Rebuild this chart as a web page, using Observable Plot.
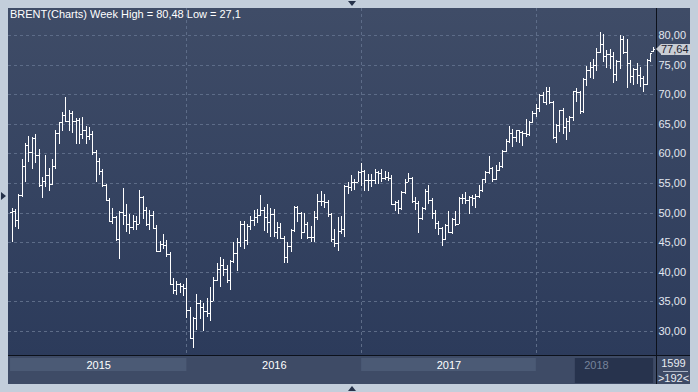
<!DOCTYPE html>
<html><head><meta charset="utf-8">
<script src="https://cdn.jsdelivr.net/npm/d3@7"></script>
<script src="https://cdn.jsdelivr.net/npm/@observablehq/plot@0.6"></script>
<style>
html,body{margin:0;padding:0;background:#c3cedb;}
#wrap{position:relative;width:698px;height:392px;overflow:hidden;background:#c3cedb;font-family:"Liberation Sans Narrow","Arial Narrow","Liberation Sans",sans-serif;}
.abs{position:absolute;}
#bgChart{left:8px;top:8px;width:682px;height:348px;background:linear-gradient(#3f4c67,#2c3b5b);}
#bgStrip{left:8px;top:356px;width:682px;height:28px;background:#3e4b66;}
#hline{left:8px;top:355px;width:682px;height:1px;background:#0c111b;}
#vline{left:656px;top:8px;width:1px;height:376px;background:#0c111b;}
#title{left:10px;top:8px;font-size:11px;line-height:12px;color:#fff;white-space:nowrap;}
#tag{left:661px;width:30px;height:11px;background:#c9cdd4;color:#1d2330;font-size:11px;line-height:11px;}
#tagArrow{left:656px;width:0;height:0;border-top:5.5px solid transparent;border-bottom:5.5px solid transparent;border-right:5px solid #c9cdd4;}
#total{left:657px;top:357px;width:33px;text-align:center;font-size:11px;line-height:12px;color:#e8ecf2;}
#sep{left:663px;top:371px;width:25px;height:1px;background:#aab4c4;}
#count{left:657px;top:372px;width:33px;text-align:center;font-size:11px;line-height:12px;color:#e8ecf2;}
#triTop{left:348px;top:1px;width:0;height:0;border-left:4px solid transparent;border-right:4px solid transparent;border-top:5px solid #26324a;}
#triBot{left:348px;top:386px;width:0;height:0;border-left:4px solid transparent;border-right:4px solid transparent;border-bottom:5px solid #26324a;}
#triLeft{left:1px;top:192px;width:0;height:0;border-top:4px solid transparent;border-bottom:4px solid transparent;border-left:5px solid #26324a;}
svg{display:block;}
</style></head>
<body>
<div id="wrap">
  <div id="bgChart" class="abs"></div>
  <div id="bgStrip" class="abs"></div>
  <div id="mainPlot" class="abs" style="left:0;top:0"></div>
  <div id="stripPlot" class="abs" style="left:0;top:356px"></div>
  <div id="hline" class="abs"></div>
  <div id="vline" class="abs"></div>
  <div id="title" class="abs"></div>
  <div id="tagArrow" class="abs"></div>
  <div id="tag" class="abs"></div>
  <div id="total" class="abs"></div>
  <div id="sep" class="abs"></div>
  <div id="count" class="abs"></div>
  <div id="triTop" class="abs"></div>
  <div id="triBot" class="abs"></div>
  <div id="triLeft" class="abs"></div>
</div>
<script>
// ---- data (weekly Brent OHLC) ----
const open = [
50.1,50.2,48.8,53.0,57.8,61.5,60.2,62.6,59.7,54.7,55.3,56.4,54.9,57.9,63.5,65.3,66.5,65.4,66.8,65.4,65.6,63.3,63.9,63.0,63.3,60.3,58.7,57.1,54.6,52.2,48.6,49.2,45.5,50.1,49.6,48.1,47.5,48.6,48.1,52.7,50.5,48.0,49.6,47.4,43.6,44.7,44.6,43.0,37.9,36.9,37.9,37.6,
37.3,33.6,28.9,32.2,34.7,34.1,33.4,33.0,35.1,38.7,40.4,41.2,40.4,38.7,41.9,43.1,45.1,48.1,45.4,47.8,48.7,49.3,49.6,50.5,49.2,48.4,49.7,46.8,47.6,45.7,42.5,44.3,47.0,50.9,49.9,46.8,48.0,45.8,45.9,49.2,51.9,52.0,51.8,49.7,45.6,44.8,46.9,47.2,54.5,54.3,55.2,55.2,
56.8,57.1,55.5,55.5,55.5,56.8,56.7,55.8,56.0,55.9,51.4,51.8,50.8,53.5,55.2,55.9,52.0,51.7,49.1,50.8,53.6,52.2,50.0,48.2,47.4,45.5,47.9,46.7,48.9,48.1,52.5,52.4,52.1,52.7,52.4,52.8,53.8,55.6,56.9,57.5,55.6,57.2,57.8,60.4,62.1,63.5,62.7,63.9,63.7,63.4,63.2,65.3,
66.9,67.6,69.9,68.6,70.5,68.6,62.8,64.8,67.3,64.4,65.5,66.2,70.5,70.3,67.1,72.6,74.1,74.6,74.9,77.1,78.5,76.4,76.8,76.5,73.4,75.6,79.4,77.1,75.3,73.1,74.3,73.2,72.8,71.8,75.8,77.3];
const high = [
50.7,50.6,53.1,59.1,61.8,63.0,62.8,63.3,60.7,56.0,59.8,57.5,59.1,64.0,65.3,67.0,69.6,67.3,67.2,66.0,65.9,66.2,64.6,64.4,63.8,60.6,59.2,57.4,54.9,52.4,50.8,49.4,50.2,54.2,51.5,49.8,49.6,49.5,53.8,52.8,51.0,50.5,50.3,47.9,45.2,46.4,45.4,43.3,39.0,38.4,38.1,38.0,
38.9,34.0,32.3,36.3,35.3,34.7,35.6,37.5,39.1,41.5,42.5,42.2,41.2,42.0,45.1,45.7,48.5,48.6,48.1,49.5,50.5,50.6,52.9,51.0,51.4,50.8,50.6,48.4,48.2,46.0,45.0,47.2,51.2,51.2,50.1,50.0,48.4,47.8,50.3,53.1,53.7,53.2,52.2,49.9,47.2,49.2,49.5,54.7,55.2,56.4,55.7,57.0,
58.4,57.2,56.5,56.5,57.3,57.1,57.4,57.1,56.8,56.4,52.0,52.2,53.6,55.6,56.7,56.0,52.6,52.0,51.0,54.0,54.7,52.5,50.5,48.6,47.5,48.1,50.2,49.1,50.2,52.7,53.1,53.4,52.8,53.0,53.2,54.6,55.7,57.1,59.5,57.7,58.0,58.5,60.5,62.4,64.7,64.2,64.0,64.0,63.8,65.8,65.5,67.1,
68.3,70.1,70.4,71.3,71.3,68.9,64.9,67.4,67.7,66.0,66.4,70.6,71.0,70.6,72.7,74.8,75.5,76.0,77.8,80.48,80.2,77.5,77.7,77.2,75.8,80.0,79.8,79.4,75.7,74.5,75.3,74.6,73.0,75.9,77.0,77.9];
const low = [
45.1,47.6,47.3,52.7,55.2,58.6,57.3,58.4,54.3,52.5,54.3,53.6,54.6,57.4,61.6,63.8,65.3,63.8,63.5,61.6,61.6,62.4,61.6,62.2,59.7,55.1,56.4,54.3,51.9,48.5,48.1,45.2,42.2,47.9,46.8,46.4,47.0,47.0,48.0,48.9,47.7,47.1,47.2,43.5,43.3,43.9,42.5,37.8,36.3,36.0,36.5,35.9,
32.2,28.8,27.1,30.1,32.1,30.0,32.3,31.7,35.0,38.4,37.5,39.3,38.1,36.9,41.5,40.1,44.2,43.9,44.5,47.0,47.8,48.2,49.4,46.9,46.6,45.9,45.9,45.5,45.6,41.5,41.5,43.4,46.7,48.4,45.6,46.6,45.6,45.0,45.1,48.8,51.1,50.7,49.3,45.1,44.2,43.6,46.4,45.9,53.2,53.6,53.9,55.1,
54.5,53.6,53.6,54.3,54.9,54.9,55.2,55.5,55.4,51.3,50.3,49.7,50.4,53.2,55.1,51.6,50.5,46.6,48.7,50.5,51.4,48.9,47.3,46.3,44.4,45.4,46.5,46.4,47.8,48.0,51.4,51.5,49.7,51.2,50.7,52.4,53.5,55.0,56.6,55.1,55.5,57.0,57.5,60.2,61.7,61.1,61.9,61.7,61.3,62.7,63.0,65.2,
66.2,67.0,68.5,68.2,68.3,62.5,61.8,63.6,63.3,62.2,63.7,65.5,68.7,66.6,66.8,71.4,72.8,72.6,73.9,77.0,75.5,74.5,74.2,71.9,72.2,74.3,76.8,71.1,71.9,71.6,71.7,71.2,70.3,71.6,75.4,77.2];
const close = [
50.2,48.8,53.0,57.8,61.5,60.2,62.6,59.7,54.7,55.3,56.4,54.9,57.9,63.5,65.3,66.5,65.4,66.8,65.4,65.6,63.3,63.9,63.0,63.3,60.3,58.7,57.1,54.6,52.2,48.6,49.2,45.5,50.1,49.6,48.1,47.5,48.6,48.1,52.7,50.5,48.0,49.6,47.4,43.6,44.7,44.6,43.0,37.9,36.9,37.9,37.6,37.3,
33.6,28.9,32.2,34.7,34.1,33.4,33.0,35.1,38.7,40.4,41.2,40.4,38.7,41.9,43.1,45.1,48.1,45.4,47.8,48.7,49.3,49.6,50.5,49.2,48.4,49.7,46.8,47.6,45.7,42.5,44.3,47.0,50.9,49.9,46.8,48.0,45.8,45.9,49.2,51.9,52.0,51.8,49.7,45.6,44.8,46.9,47.2,54.5,54.3,55.2,55.2,56.8,
57.1,55.5,55.5,55.5,56.8,56.7,55.8,56.0,55.9,51.4,51.8,50.8,53.5,55.2,55.9,52.0,51.7,49.1,50.8,53.6,52.2,50.0,48.2,47.4,45.5,47.9,46.7,48.9,48.1,52.5,52.4,52.1,52.7,52.4,52.8,53.8,55.6,56.9,57.5,55.6,57.2,57.8,60.4,62.1,63.5,62.7,63.9,63.7,63.4,63.2,65.3,66.9,
67.6,69.9,68.6,70.5,68.6,62.8,64.8,67.3,64.4,65.5,66.2,70.5,70.3,67.1,72.6,74.1,74.6,74.9,77.1,78.5,76.4,76.8,76.5,73.4,75.6,79.4,77.1,75.3,73.1,74.3,73.2,72.8,71.8,75.8,76.9,77.64];
const years = ["2015", "2016", "2017", "2018"];
const yearEdges = [-0.5, 52, 104, 156, 191.76];   // bar index where each year starts
const yTicks = [30, 35, 40, 45, 50, 55, 60, 65, 70, 75, 80];
const navWindow = [167.6, 190.9];
const totalLabel = "1599";
const countLabel = ">192<";
const instrument = "BRENT(Charts) Week";

// ---- build ----
const bars = close.map((c, i) => ({i, open: open[i], high: high[i], low: low[i], close: c}));
const comma = v => String(v).replace(".", ",");
const font = '"Liberation Sans Narrow","Arial Narrow","Liberation Sans",sans-serif';
const xDomain = [-1.1, 191.76];
const grid = "#5d6c88";

const chart = Plot.plot({
  width: 698, height: 356,
  marginLeft: 8, marginRight: 42, marginTop: 8, marginBottom: 1,
  style: {background: "transparent", color: "#e2e7ef", fontSize: "11px", fontFamily: font, overflow: "visible"},
  x: {domain: xDomain, axis: null, round: true},
  y: {domain: [25.95, 84.56], axis: "right", ticks: yTicks, tickSize: 0, tickPadding: 2,
      tickFormat: d => d.toFixed(2).replace(".", ","), label: null, round: true},
  marks: [
    Plot.ruleY(yTicks, {stroke: grid, strokeDasharray: "3,3"}),
    Plot.ruleX(yearEdges.slice(1, 4), {stroke: grid, strokeDasharray: "3,3"}),
    Plot.ruleX(bars, {x: "i", y1: "low", y2: "high", stroke: "#ffffff", strokeWidth: 1}),
    Plot.ruleY(bars, {y: "open", x1: d => d.i - 0.6, x2: "i", stroke: "#ffffff", strokeWidth: 1}),
    Plot.ruleY(bars, {y: "close", x1: "i", x2: d => d.i + 0.6, stroke: "#ffffff", strokeWidth: 1})
  ]
});
document.getElementById("mainPlot").appendChild(chart);

const bands = years.map((y, k) => ({year: y, k, x1: yearEdges[k], x2: yearEdges[k + 1], mid: (yearEdges[k] + yearEdges[k + 1]) / 2}));
const strip = Plot.plot({
  width: 698, height: 28,
  marginLeft: 8, marginRight: 42, marginTop: 0, marginBottom: 0,
  style: {background: "transparent", fontSize: "11px", fontFamily: font},
  x: {domain: xDomain, axis: null},
  marks: [
    Plot.barX(bands.filter(d => d.k % 2 === 0 && d.k < 3), {x1: "x1", x2: "x2", fill: "#4b5a75", insetTop: 2, insetBottom: 13}),
    Plot.barX([navWindow], {x1: d => d[0], x2: d => d[1], fill: "#27334d", insetTop: 2, insetBottom: 1}),
    Plot.text(bands, {x: "mid", text: "year", frameAnchor: "top", dy: 9, lineAnchor: "middle",
      fill: d => d.k === 3 ? "#76839a" : "#ffffff"})
  ]
});
document.getElementById("stripPlot").appendChild(strip);

document.getElementById("title").textContent =
  `${instrument} High = ${comma(d3.max(high))} Low = ${comma(d3.min(low))}`;
const last = close[close.length - 1];
const yPos = chart.scale("y").apply(last);
const tag = document.getElementById("tag");
tag.textContent = comma(last);
tag.style.top = (yPos - 5.5) + "px";
document.getElementById("tagArrow").style.top = (yPos - 5.5) + "px";
document.getElementById("total").textContent = totalLabel;
document.getElementById("count").textContent = countLabel;
</script>
</body></html>
